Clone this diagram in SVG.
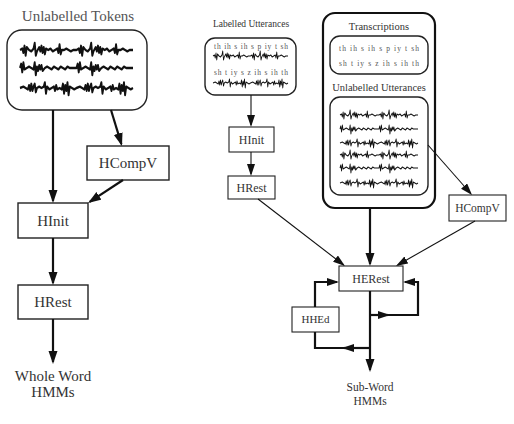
<svg xmlns="http://www.w3.org/2000/svg" xmlns:xlink="http://www.w3.org/1999/xlink" width="514" height="424" viewBox="0 0 514 424">
<style>
text{font-family:"Liberation Serif","Times New Roman",serif;fill:#333;text-anchor:middle}
.big{font-size:15px}
.mid{font-size:12px}
.sm{font-size:10.5px}
.ph{font-size:7.5px;fill:#555}
.box{fill:#fff;stroke:#222;stroke-width:1.4}
.boxs{fill:#fff;stroke:#222;stroke-width:1.1}
.rbox{fill:#fff;stroke:#222;stroke-width:1.4}
.outer{fill:#fff;stroke:#111;stroke-width:2.2}
.wv{fill:none;stroke:#111;stroke-linejoin:round;vector-effect:non-scaling-stroke}
.wl{stroke-width:1.7}
.ws{stroke-width:1.1}
.thick{fill:none;stroke:#111;stroke-width:2.2}
.thin{fill:none;stroke:#111;stroke-width:1.1}
.ah{marker-end:url(#ah)}
.as{marker-end:url(#as)}
</style>
<defs>
<marker id="ah" markerUnits="userSpaceOnUse" markerWidth="14" markerHeight="10" refX="11" refY="4.5" orient="auto"><path d="M0,0 L13,4.5 L0,9 z" fill="#111"/></marker>
<marker id="as" markerUnits="userSpaceOnUse" markerWidth="13" markerHeight="9" refX="10" refY="4" orient="auto"><path d="M0,0 L12,4 L0,8 z" fill="#111"/></marker>
<path id="wA" d="M0,0 L2,-1 L3,2 L4,-3 L5,4 L6,-2 L8,0 L10,1 L12,-1 L13,-5 L14,4 L15,1 L17,-2 L18,1 L19,-3 L20,2 L21,-2 L22,3 L23,-1 L25,0 L27,-1 L29,1 L31,0 L33,-1 L34,2 L35,-4 L36,3 L37,0 L39,0 L41,-1 L43,0 L45,1 L47,0 L50,0 L52,-1 L53,2 L54,-3 L55,4 L56,-2 L58,0 L60,1 L62,-1 L63,-5 L64,4 L65,1 L67,-2 L68,1 L69,-3 L70,2 L71,-2 L72,3 L73,-1 L75,0 L77,-1 L79,1 L81,0 L83,-1 L84,2 L85,-4 L86,3 L87,0 L89,0 L91,-1 L93,0 L95,1 L97,0 L100,0"/>
<path id="wB" d="M0,0 L1,-3 L2,3 L3,-4 L4,1 L6,0 L8,-1 L10,0 L12,1 L13,-4 L14,5 L15,-1 L16,2 L17,-2 L18,1 L19,-2 L20,2 L22,0 L24,-1 L26,0 L28,1 L30,-1 L32,0 L34,1 L36,-1 L38,0 L40,1 L42,-1 L44,0 L47,0 L50,0 L51,-3 L52,3 L53,-4 L54,1 L56,0 L58,-1 L60,0 L62,1 L63,-4 L64,5 L65,-1 L66,2 L67,-2 L68,1 L69,-2 L70,2 L72,0 L74,-1 L76,0 L78,1 L80,-1 L82,0 L84,1 L86,-1 L88,0 L90,1 L92,-1 L94,0 L97,0 L100,0"/>
<path id="wC" d="M0,0 L3,-1 L5,0 L7,1 L8,-2 L9,2 L10,-3 L11,2 L12,-1 L13,-3 L14,3 L15,0 L17,-1 L19,0 L21,-1 L22,-4 L23,4 L24,-1 L26,1 L28,0 L30,-1 L31,2 L32,-2 L33,1 L35,0 L37,1 L38,-3 L39,4 L40,-2 L41,2 L42,-4 L43,5 L44,-1 L46,0 L48,1 L50,0 L53,-1 L55,0 L57,1 L58,-2 L59,2 L60,-3 L61,2 L62,-1 L63,-3 L64,3 L65,0 L67,-1 L69,0 L71,-1 L72,-4 L73,4 L74,-1 L76,1 L78,0 L80,-1 L81,2 L82,-2 L83,1 L85,0 L87,1 L88,-3 L89,4 L90,-2 L91,2 L92,-4 L93,5 L94,-1 L96,0 L98,1 L100,0"/>
</defs>
<rect width="514" height="424" fill="#fff"/>

<g id="unlabelled-tokens">
<text class="big" x="78" y="21" style="fill:#555">Unlabelled Tokens</text>
<rect class="box" x="7" y="30" width="140" height="80" rx="15"/>
<use xlink:href="#wA" class="wv wl" transform="translate(20,50) scale(1.13,1.4)"/>
<use xlink:href="#wB" class="wv wl" transform="translate(20,68) scale(1.13,1.4)"/>
<use xlink:href="#wC" class="wv wl" transform="translate(20,88) scale(1.13,1.4)"/>
</g>
<g id="hcompv-left">
<rect class="box" x="87" y="146" width="82" height="34"/>
<text class="big" x="128" y="168">HCompV</text>
</g>
<g id="hinit-left">
<rect class="box" x="18" y="203" width="70" height="35"/>
<text class="big" x="53" y="226">HInit</text>
</g>
<g id="hrest-left">
<rect class="box" x="18" y="285" width="70" height="34"/>
<text class="big" x="53" y="307">HRest</text>
</g>
<g id="whole-word-hmms">
<text class="big" x="53" y="381">Whole Word</text>
<text class="big" x="53" y="397">HMMs</text>
</g>

<g id="labelled-utterances">
<text x="251" y="27" style="font-size:9.5px">Labelled Utterances</text>
<rect class="rbox" x="205" y="38" width="91" height="57" rx="10"/>
<text class="ph" x="251" y="49" textLength="74" lengthAdjust="spacing">th ih s ih s p iy t sh</text>
<use xlink:href="#wA" class="wv ws" transform="translate(213,56) scale(0.75,1)"/>
<text class="ph" x="251" y="75" textLength="74" lengthAdjust="spacing">sh t iy s z ih s ih th</text>
<use xlink:href="#wC" class="wv ws" transform="translate(213,83) scale(0.75,1)"/>
</g>
<g id="hinit-right">
<rect class="boxs" x="229" y="127" width="45" height="25"/>
<text class="mid" x="251.5" y="143.5">HInit</text>
</g>
<g id="hrest-right">
<rect class="boxs" x="228" y="176" width="47" height="23"/>
<text class="mid" x="251.5" y="192">HRest</text>
</g>

<g id="training-data">
<rect class="outer" x="323" y="13" width="112" height="195" rx="12"/>
<text class="sm" x="379" y="30">Transcriptions</text>
<rect class="rbox" x="330" y="36" width="98" height="38" rx="10"/>
<text class="ph" x="379" y="51" textLength="80" lengthAdjust="spacing">th ih s ih s p iy t sh</text>
<text class="ph" x="379" y="66" textLength="80" lengthAdjust="spacing">sh t iy s z ih s ih th</text>
<text class="sm" x="379" y="91">Unlabelled Utterances</text>
<rect class="rbox" x="330" y="97" width="98" height="98" rx="10"/>
<use xlink:href="#wA" class="wv ws" transform="translate(340,115) scale(0.78,1)"/>
<use xlink:href="#wB" class="wv ws" transform="translate(340,129) scale(0.78,1)"/>
<use xlink:href="#wC" class="wv ws" transform="translate(340,143) scale(0.78,1)"/>
<use xlink:href="#wA" class="wv ws" transform="translate(340,155) scale(0.78,1)"/>
<use xlink:href="#wB" class="wv ws" transform="translate(340,168) scale(0.78,1)"/>
<use xlink:href="#wC" class="wv ws" transform="translate(340,183) scale(0.78,1)"/>
</g>
<g id="hcompv-right">
<rect class="boxs" x="449" y="195" width="57" height="26"/>
<text x="477.5" y="212" style="font-size:11.5px">HCompV</text>
</g>
<g id="herest">
<rect class="boxs" x="339" y="266" width="64" height="25"/>
<text class="mid" x="371" y="283">HERest</text>
</g>
<g id="hhed">
<rect class="boxs" x="292" y="307" width="47" height="25"/>
<text x="315.5" y="323" style="font-size:11px">HHEd</text>
</g>
<g id="sub-word-hmms">
<text x="370" y="391" style="font-size:11.5px">Sub-Word</text>
<text x="370" y="405" style="font-size:11.5px">HMMs</text>
</g>

<g id="connectors">
<path class="thick ah" d="M53,110 V201"/>
<path class="thick ah" d="M111,110 L121.4,144.1"/>
<path class="thick ah" d="M123,180 L89.7,201.9"/>
<path class="thick ah" d="M53,238 V283"/>
<path class="thick ah" d="M53,319 V362"/>

<path class="thin as" d="M251,95 V125"/>
<path class="thin as" d="M251,152 V174"/>
<path class="thin as" d="M258,199 L343.4,264.8"/>
<path class="thick ah" d="M370,208 V264"/>
<path class="thin as" d="M428,145 L470.7,193.5"/>
<path class="thin as" d="M475,221 L397.7,265"/>
<path class="thick ah" d="M370,291 V370"/>
<path class="thick as" d="M370,315 H388"/>
<path class="thick as" d="M386,315 H418 V282 H405"/>
<path class="thick as" d="M370,348 H344"/>
<path class="thick" d="M346,348 H315 V332"/>
<path class="thick as" d="M315,307 V282 H337"/>
</g>
</svg>
